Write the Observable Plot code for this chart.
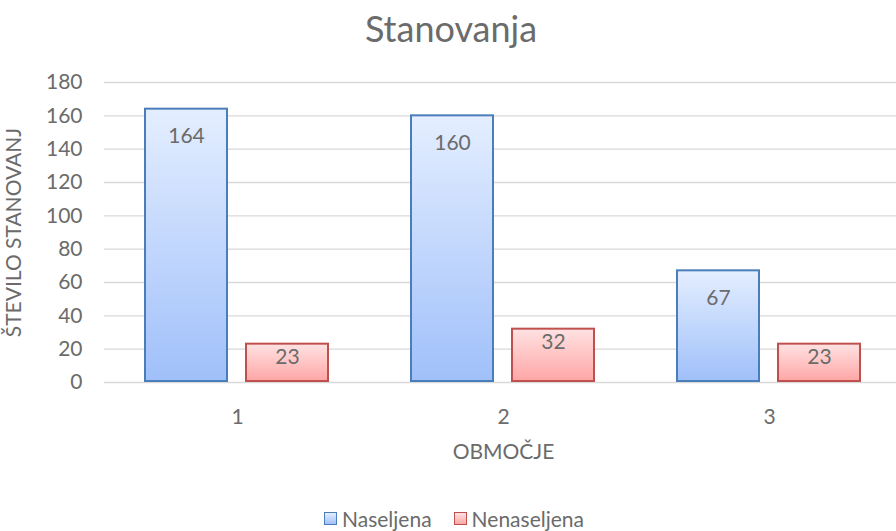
<!DOCTYPE html>
<html>
<head>
<meta charset="utf-8">
<script src="https://cdn.jsdelivr.net/npm/d3@7"></script>
<script src="https://cdn.jsdelivr.net/npm/@observablehq/plot@0.6"></script>
<style>
  html, body { margin: 0; padding: 0; background: #fff; }
  #wrap { position: relative; width: 896px; height: 531px; overflow: hidden; font-family: Lato, "Open Sans", sans-serif; color: #6b6b6b; }
  #title { position: absolute; left: 0; top: 8px; width: 896px; padding-left: 6px; box-sizing: border-box; text-align: center; font-size: 36px; line-height: 40px; }
  #plot { position: absolute; left: 0; top: 55px; }
  #legend { position: absolute; left: 0; top: 505px; width: 896px; padding-left: 12px; box-sizing: border-box; text-align: center; font-size: 21px; line-height: 24px; }
  .item { display: inline-flex; align-items: center; margin: 0 11px; }
  .sw { display: inline-block; width: 11px; height: 11px; margin-right: 5px; border: 1.5px solid; }
</style>
</head>
<body>
<div id="wrap">
  <div id="title">Stanovanja</div>
  <div id="plot"></div>
  <div id="legend"></div>
</div>
<script>
// --- data ---
const groups = ["1", "2", "3"];
const series = ["Naseljena", "Nenaseljena"];
const naseljena = [164, 160, 67];
const nenaseljena = [23, 32, 23];
const yTicks = [0, 20, 40, 60, 80, 100, 120, 140, 160, 180];

const table = [];
groups.forEach((g, i) => {
  table.push({group: g, series: series[0], value: naseljena[i]});
  table.push({group: g, series: series[1], value: nenaseljena[i]});
});
const blue = table.filter(d => d.series === series[0]);
const red = table.filter(d => d.series === series[1]);

const textColor = "#6b6b6b";

const chart = Plot.plot({
  width: 896,
  height: 420,
  marginLeft: 103,
  marginRight: -7,
  marginTop: 27,
  marginBottom: 93,
  style: {fontFamily: "Lato, 'Open Sans', sans-serif", fontSize: "21px", color: textColor, background: "transparent"},
  fx: {domain: groups, padding: 0},
  x: {domain: series, axis: null, paddingInner: 0.186, paddingOuter: 0.4},
  y: {domain: [0, 180]},
  marks: [
    Plot.gridY(yTicks, {stroke: "#d9d9d9", strokeOpacity: 1, strokeWidth: 1.4}),
    Plot.barY(blue, {fx: "group", x: "series", y: "value", fill: "url(#gradBlue)", stroke: "#4a7ebb", strokeWidth: 2, insetBottom: 1}),
    Plot.barY(red, {fx: "group", x: "series", y: "value", fill: "url(#gradRed)", stroke: "#c0504d", strokeWidth: 2, insetBottom: 1}),
    Plot.text(blue, {fx: "group", x: "series", y: "value", text: d => String(d.value), dy: 27, fill: textColor, fontSize: 21}),
    Plot.text(red, {fx: "group", x: "series", y: "value", text: d => String(d.value), dy: 13, fill: textColor, fontSize: 21}),
    Plot.axisY(yTicks, {tickSize: 0, tickPadding: 22, fontSize: 21, fill: textColor, label: "ŠTEVILO STANOVANJ", labelAnchor: "center", labelOffset: 98, labelArrow: "none"}),
    Plot.axisFx({anchor: "bottom", tickSize: 0, tickPadding: 27, fontSize: 21, fill: textColor, label: "OBMOČJE", labelAnchor: "center", labelOffset: 76, labelArrow: "none"})
  ]
});

// gradient definitions
const NS = "http://www.w3.org/2000/svg";
const defs = document.createElementNS(NS, "defs");
function grad(id, top, bottom) {
  const lg = document.createElementNS(NS, "linearGradient");
  lg.setAttribute("id", id);
  lg.setAttribute("x1", "0"); lg.setAttribute("y1", "0");
  lg.setAttribute("x2", "0"); lg.setAttribute("y2", "1");
  [[0, top], [1, bottom]].forEach(([o, c]) => {
    const s = document.createElementNS(NS, "stop");
    s.setAttribute("offset", o);
    s.setAttribute("stop-color", c);
    lg.appendChild(s);
  });
  defs.appendChild(lg);
}
grad("gradBlue", "#e4eeff", "#a0c0fa");
grad("gradRed", "#ffe2e2", "#ffa6a6");
chart.insertBefore(defs, chart.firstChild);
document.getElementById("plot").appendChild(chart);

// legend
const legend = document.getElementById("legend");
const swatches = [["linear-gradient(#e4eeff,#a0c0fa)", "#4a7ebb"], ["linear-gradient(#ffe2e2,#ffa6a6)", "#c0504d"]];
series.forEach((s, i) => {
  const item = document.createElement("span");
  item.className = "item";
  const sw = document.createElement("span");
  sw.className = "sw";
  sw.style.background = swatches[i][0];
  sw.style.borderColor = swatches[i][1];
  item.appendChild(sw);
  item.appendChild(document.createTextNode(s));
  legend.appendChild(item);
});
</script>
</body>
</html>
